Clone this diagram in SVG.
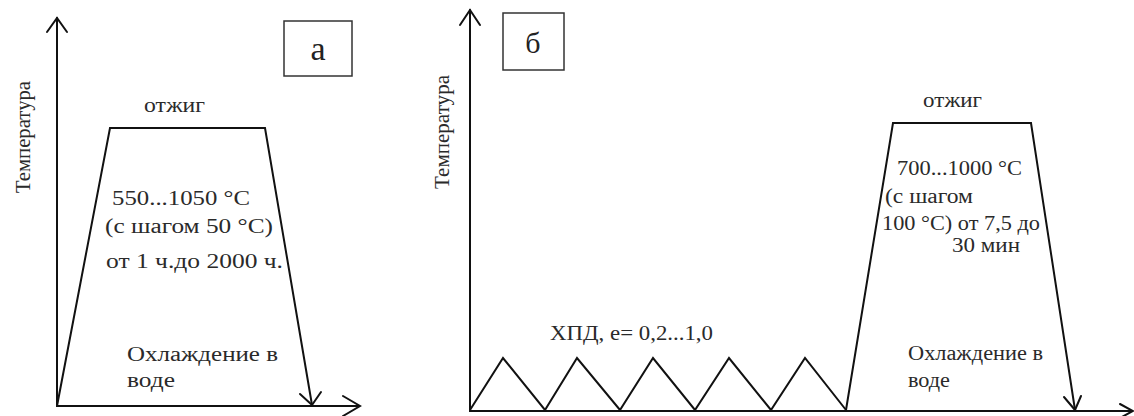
<svg xmlns="http://www.w3.org/2000/svg" width="1134" height="416" viewBox="0 0 1134 416">
<defs>
<style>
.ln{fill:none;stroke:#111;stroke-width:2;stroke-linejoin:miter;stroke-linecap:round}
.ah{fill:none;stroke:#111;stroke-width:2;stroke-linecap:round;stroke-linejoin:miter}
.box{fill:#fff;stroke:#333;stroke-width:1.5}
.t{font-family:"Liberation Serif","Times New Roman",serif;font-size:20px;fill:#2a2a2a}
.lbl{font-family:"Liberation Serif","Times New Roman",serif;font-size:34px;fill:#222;text-anchor:middle}
</style>
</defs>
<rect width="1134" height="416" fill="#fff"/>
<g id="connectors">
<polyline class="ln" points="57,18 57,406 358,406"/>
<polyline class="ah" points="47,32 57,18 67,32"/>
<polyline class="ah" points="343,396 360,406 343,416"/>
<polyline class="ln" points="57,406 110,128 265,128 312,405"/>
<polyline class="ah" points="300,394 312,405 321,392"/>
<polyline class="ln" points="470,10 470,411 1132,411"/>
<polyline class="ah" points="460,25 470,10 480,25"/>
<polyline class="ah" points="1120,404 1133,411 1120,418"/>
<polyline class="ln" points="470,410 503,358 545,410 577,358 620,410 653,358 695,410 729,358 771,410 805,358 846,410"/>
<polyline class="ln" points="846,410 893,123 1031,123 1075,410"/>
<polyline class="ah" points="1064,397 1075,410 1081,396"/>
</g>
<g id="panel-a">
<g id="label-a"><rect class="box" x="284" y="21" width="68" height="55"/><text class="lbl" x="318" y="60">а</text></g>
<text class="t" transform="translate(30,137) rotate(-90)" text-anchor="middle" textLength="112" lengthAdjust="spacingAndGlyphs">Температура</text>
<text class="t" x="144" y="112" textLength="61" lengthAdjust="spacingAndGlyphs">отжиг</text>
<text class="t" x="112" y="205" textLength="138" lengthAdjust="spacingAndGlyphs">550...1050 °C</text>
<text class="t" x="105" y="233" textLength="168" lengthAdjust="spacingAndGlyphs">(с шагом 50 °C)</text>
<text class="t" x="106" y="268" textLength="177" lengthAdjust="spacingAndGlyphs">от 1 ч.до 2000 ч.</text>
<text class="t" x="127" y="361" textLength="151" lengthAdjust="spacingAndGlyphs">Охлаждение в</text>
<text class="t" x="127" y="387" textLength="48" lengthAdjust="spacingAndGlyphs">воде</text>
</g>
<g id="panel-b">
<g id="label-b"><rect class="box" x="503" y="13" width="61" height="57"/><text class="lbl" x="533" y="53" style="font-size:30px">б</text></g>
<text class="t" transform="translate(449,132) rotate(-90)" text-anchor="middle" textLength="114" lengthAdjust="spacingAndGlyphs">Температура</text>
<text class="t" x="550" y="340" textLength="163" lengthAdjust="spacingAndGlyphs">ХПД, е= 0,2...1,0</text>
<text class="t" x="923" y="107" textLength="59" lengthAdjust="spacingAndGlyphs">отжиг</text>
<text class="t" x="897" y="175" textLength="125" lengthAdjust="spacingAndGlyphs">700...1000 °C</text>
<text class="t" x="885" y="203" textLength="88" lengthAdjust="spacingAndGlyphs">(с шагом</text>
<text class="t" x="882" y="230" textLength="158" lengthAdjust="spacingAndGlyphs">100 °C) от 7,5 до</text>
<text class="t" x="952" y="252" textLength="68" lengthAdjust="spacingAndGlyphs">30 мин</text>
<text class="t" x="908" y="360" textLength="135" lengthAdjust="spacingAndGlyphs">Охлаждение в</text>
<text class="t" x="908" y="387" textLength="42" lengthAdjust="spacingAndGlyphs">воде</text>
</g>
</svg>
